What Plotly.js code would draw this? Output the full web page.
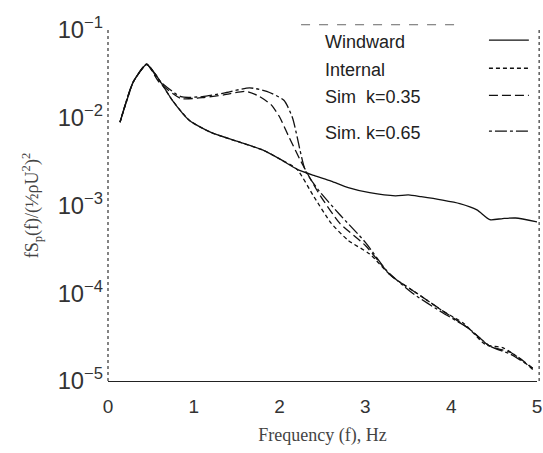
<!DOCTYPE html>
<html>
<head>
<meta charset="utf-8">
<script src="https://cdn.plot.ly/plotly-3.0.1.min.js"></script>
<style>html,body{margin:0;padding:0;background:#fff;}#chart{width:543px;height:453px;}</style>
</head>
<body>
<div id="chart"></div>
<script>
// Series names (legend text)
var seriesNames = ["Windward", "Internal", "Sim  k=0.35", "Sim. k=0.65"];

// Windward (measured)
var freqWindward = [0.14, 0.22, 0.29, 0.37, 0.45, 0.55, 0.65, 0.75, 0.95, 1.2, 1.5, 1.8, 2.0, 2.2, 2.4, 2.6, 2.8, 3.05, 3.35, 3.5, 3.65, 3.9, 4.1, 4.3, 4.45, 4.6, 4.75, 5.0];
var specWindward = [0.0089, 0.0158, 0.0251, 0.0331, 0.0407, 0.0316, 0.0224, 0.0158, 0.0093, 0.0068, 0.0054, 0.0043, 0.0034, 0.0026, 0.0022, 0.0019, 0.0016, 0.0014, 0.00129, 0.00132, 0.00126, 0.00115, 0.00105, 0.00089, 0.00069, 0.00071, 0.00072, 0.00065];

// Internal (measured)
var freqInternal = [0.14, 0.22, 0.29, 0.37, 0.45, 0.55, 0.65, 0.75, 0.95, 1.2, 1.5, 1.8, 2.0, 2.2, 2.4, 2.6, 2.8, 3.05, 3.3, 3.6, 3.9, 4.15, 4.4, 4.6, 4.8, 4.95];
var specInternal = [0.0089, 0.0158, 0.0251, 0.0331, 0.0407, 0.0316, 0.0224, 0.0158, 0.0093, 0.0068, 0.0054, 0.0043, 0.0034, 0.0026, 0.00126, 0.00063, 0.00040, 0.00028, 0.000158, 0.0001, 0.000063, 0.000045, 0.000026, 0.000024, 0.000018, 0.0000135];

// Simulation, k = 0.35
var freqSim035 = [0.14, 0.29, 0.45, 0.6, 0.85, 1.1, 1.35, 1.6, 1.75, 1.9, 2.0, 2.1, 2.25, 2.45, 2.7, 3.0, 3.3, 3.6, 3.9, 4.2, 4.45, 4.7, 4.95];
var specSim035 = [0.0089, 0.0251, 0.0407, 0.0251, 0.0166, 0.0170, 0.0182, 0.0200, 0.0178, 0.0141, 0.0102, 0.0063, 0.00316, 0.00141, 0.00063, 0.00035, 0.000158, 0.0001, 0.000063, 0.00004, 0.000025, 0.000021, 0.000014];

// Simulation, k = 0.65
var freqSim065 = [0.14, 0.29, 0.45, 0.6, 0.85, 1.1, 1.35, 1.65, 1.85, 2.05, 2.15, 2.3, 2.45, 2.7, 3.0, 3.25, 3.55, 3.9, 4.2, 4.45, 4.7, 4.95];
var specSim065 = [0.0089, 0.0251, 0.0407, 0.0263, 0.0174, 0.0174, 0.0191, 0.0219, 0.0200, 0.0158, 0.0100, 0.00251, 0.00151, 0.00079, 0.00038, 0.00018, 0.0001, 0.00006, 0.00004, 0.000025, 0.00002, 0.000014];

// Axis ticks
var xTicks = [0, 1, 2, 3, 4, 5];

var lineStyles = ["solid", "4px,3px", "9px,4px", "3px,3px,12px,3px"];
var xs = [freqWindward, freqInternal, freqSim035, freqSim065];
var ys = [specWindward, specInternal, specSim035, specSim065];

var traces = [];
for (var i = 0; i < 4; i++) {
  traces.push({
    type: "scatter", mode: "lines",
    x: xs[i], y: ys[i], name: seriesNames[i],
    line: {color: "#111", width: 1.3, dash: lineStyles[i], shape: "spline", smoothing: 0.6},
    showlegend: false, cliponaxis: false
  });
}

// Hand-built legend: text on the left, line sample on the right
var legY = [0.966, 0.886, 0.809, 0.707];
var annotations = [];
var shapes = [];
for (var j = 0; j < 4; j++) {
  annotations.push({
    xref: "paper", yref: "paper", x: 0.5, y: legY[j], xanchor: "left", yanchor: "middle",
    text: seriesNames[j], showarrow: false,
    font: {family: "Liberation Sans, Arial, sans-serif", size: 18, color: "#222"}
  });
  shapes.push({
    type: "line", xref: "paper", yref: "paper", x0: 0.888, x1: 0.981, y0: legY[j] + 0.005, y1: legY[j] + 0.005,
    line: {color: "#111", width: 1.3, dash: lineStyles[j]}
  });
}
// frame: dotted left, right and top edges
shapes.push({type: "line", xref: "paper", yref: "paper", x0: 0, x1: 0, y0: 0, y1: 1, line: {color: "#333", width: 1.2, dash: "dot"}});
shapes.push({type: "line", xref: "paper", yref: "paper", x0: 1.005, x1: 1.005, y0: 0, y1: 1, line: {color: "#333", width: 1.2, dash: "dot"}});
shapes.push({type: "line", xref: "paper", yref: "paper", x0: 0.45, x1: 0.81, y0: 1.015, y1: 1.015, line: {color: "#666", width: 1, dash: "dash"}});

var layout = {
  width: 543, height: 453,
  margin: {l: 108, r: 6, t: 30, b: 72},
  paper_bgcolor: "#fff", plot_bgcolor: "#fff",
  showlegend: false,
  xaxis: {
    range: [0, 5], tickvals: xTicks, ticktext: ["0", "1", "2", "3", "4", "5"], ticks: "",
    showgrid: false, zeroline: false, ticklabeloverflow: "allow", ticklabelstandoff: 8,
    showline: true, linecolor: "#222", linewidth: 1.3,
    tickfont: {family: "Liberation Sans, Arial, sans-serif", size: 19, color: "#333"},
    title: {text: "Frequency (f), Hz", standoff: 12,
      font: {family: "Liberation Serif, Times New Roman, serif", size: 18, color: "#444"}}
  },
  yaxis: {
    type: "log", range: [-5, -1], dtick: 1, exponentformat: "power", ticks: "",
    showgrid: false, zeroline: false, showline: false, ticklabelstandoff: 4,
    tickfont: {family: "Liberation Sans, Arial, sans-serif", size: 19, color: "#333"},
    title: {text: "fS<sub>p</sub>(f)/(½ρU<sup>2</sup>)<sup>2</sup>", standoff: 14,
      font: {family: "Liberation Serif, Times New Roman, serif", size: 18, color: "#444"}}
  },
  annotations: annotations,
  shapes: shapes
};

Plotly.newPlot("chart", traces, layout, {displayModeBar: false, staticPlot: true});
</script>
</body>
</html>
